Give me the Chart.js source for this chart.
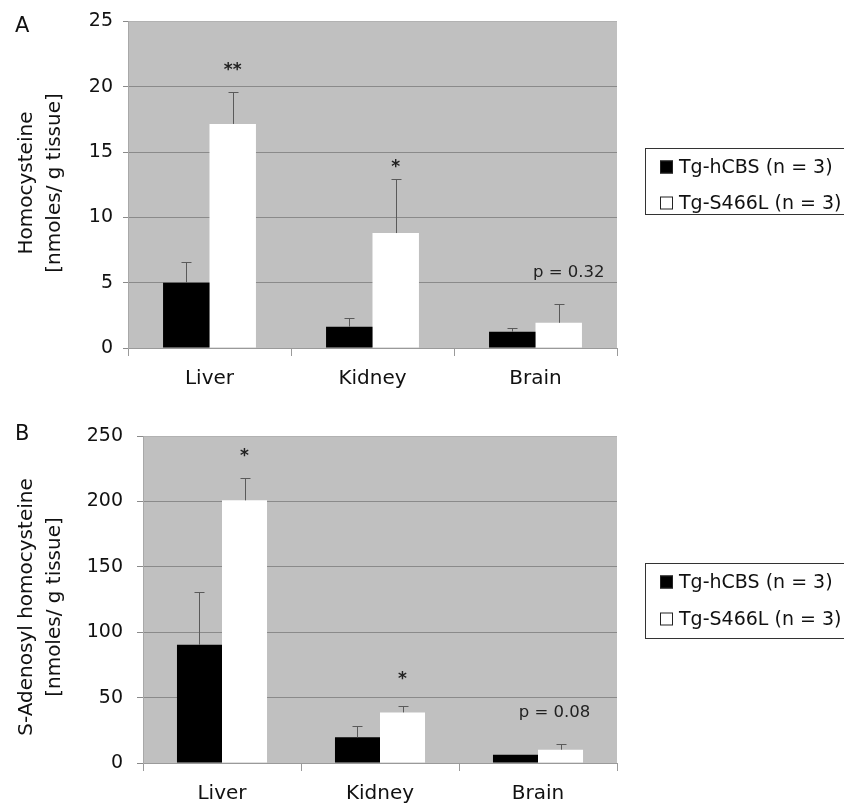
<!DOCTYPE html>
<html><head><meta charset="utf-8">
<script src="https://cdn.jsdelivr.net/npm/chart.js@4/dist/chart.umd.min.js"></script>
<style>
html,body{margin:0;padding:0;background:#fff;overflow:hidden;}
#wa{position:absolute;left:0;top:0;width:844px;height:400px;}
#wb{position:absolute;left:0;top:400px;width:844px;height:411px;}
</style></head><body>
<div id="wa"><canvas id="ca"></canvas></div>
<div id="wb"><canvas id="cb"></canvas></div>
<script>
// ---- data ----
const categories = ['Liver', 'Kidney', 'Brain'];
const seriesLabels = ['Tg-hCBS (n = 3)', 'Tg-S466L (n = 3)'];

const hcyHCBS      = [5.0, 1.63, 1.25];
const hcyHCBSErr   = [1.6, 0.64, 0.25];
const hcyS466L     = [17.15, 8.8, 1.93];
const hcyS466LErr  = [2.45, 4.1, 1.4];
const hcyTicks     = [0, 5, 10, 15, 20, 25];
const hcyMarkText  = ['**', '*', 'p = 0.32'];
const hcyMarkAt    = [21.6, 14.2, 5.8];

const sahHCBS      = [90.4, 19.6, 6.3];
const sahHCBSErr   = [40.3, 8.9, 0];
const sahS466L     = [200.8, 38.7, 10.2];
const sahS466LErr  = [17.1, 5.1, 4.6];
const sahTicks     = [0, 50, 100, 150, 200, 250];
const sahMarkText  = ['*', '*', 'p = 0.08'];
const sahMarkAt    = [238, 67.3, 38.2];

const FONT = 'DejaVu Sans';
const INK = '#111';
Chart.defaults.font.family = FONT;
Chart.defaults.color = INK;

// ---- plugins ----
const plotBg = {
  id: 'plotBg',
  beforeDraw(chart, a, o) {
    const c = chart.ctx, ca = chart.chartArea;
    c.save(); c.fillStyle = o.color; c.fillRect(ca.left, ca.top, ca.right - ca.left, ca.bottom - ca.top); c.restore();
  }
};

const errorBars = {
  id: 'errorBars',
  afterDatasetsDraw(chart, a, o) {
    const c = chart.ctx, y = chart.scales.y;
    chart.data.datasets.forEach((ds, i) => {
      chart.getDatasetMeta(i).data.forEach((el, j) => {
        const e = ds.errors[j];
        if (!e) return;
        const top = Math.round(y.getPixelForValue(ds.data[j] + e)) + 0.5;
        const x = Math.round(el.x) + 0.5;
        c.save(); c.strokeStyle = o.color; c.lineWidth = 1;
        c.beginPath();
        c.moveTo(x, el.y); c.lineTo(x, top);
        c.moveTo(x - o.cap / 2, top); c.lineTo(x + o.cap / 2, top);
        c.stroke(); c.restore();
      });
    });
  }
};

const marks = {
  id: 'marks',
  afterDatasetsDraw(chart, a, o) {
    const c = chart.ctx, y = chart.scales.y;
    const meta = chart.getDatasetMeta(1);
    o.text.forEach((t, j) => {
      if (!t) return;
      const el = meta.data[j];
      const isP = t.startsWith('p');
      c.save();
      c.fillStyle = '#222';
      c.textAlign = 'center';
      c.textBaseline = 'middle';
      c.font = (isP ? (o.pSize + 'px ') : ('bold ' + o.starSize + 'px ')) + FONT;
      const yy = y.getPixelForValue(o.at[j]) + (isP ? 0 : o.starSize * 0.28);
      c.fillText(t, el.x + (isP ? o.pdx : 0), yy);
      c.restore();
    });
  }
};

const sideText = {
  id: 'sideText',
  afterDraw(chart, a, o) {
    const c = chart.ctx;
    c.save();
    c.fillStyle = INK;
    // panel letter
    c.font = '21px ' + FONT; c.textAlign = 'left'; c.textBaseline = 'alphabetic';
    c.fillText(o.letter, o.letterX, o.letterY);
    // axis title (rotated)
    c.font = '20px ' + FONT; c.textAlign = 'center';
    o.title.forEach((line, k) => {
      c.save();
      c.translate(o.titleX[k], o.titleY);
      c.rotate(-Math.PI / 2);
      c.fillText(line, 0, 0);
      c.restore();
    });
    // legend
    const L = o.legend;
    c.strokeStyle = '#333'; c.lineWidth = 1;
    c.strokeRect(L.x + 0.5, L.y + 0.5, L.w, L.h);
    c.font = L.size + 'px ' + FONT; c.textBaseline = 'middle'; c.textAlign = 'left';
    chart.data.datasets.forEach((ds, i) => {
      const ry = L.rows[i];
      c.fillStyle = ds.backgroundColor;
      c.fillRect(L.sx, ry - 6.5, 13, 13);
      c.strokeStyle = '#222';
      c.strokeRect(L.sx + 0.5, ry - 6, 12, 12);
      c.fillStyle = INK;
      c.fillText(ds.label, L.tx, ry + 1);
    });
    c.restore();
  }
};

function makeChart(id, cfg) {
  const gridColor = '#8a8a8a';
  return new Chart(document.getElementById(id), {
    type: 'bar',
    data: {
      labels: categories,
      datasets: [
        { label: seriesLabels[0], data: cfg.a, errors: cfg.aErr, backgroundColor: '#000000', borderWidth: 0,
          categoryPercentage: 0.57, barPercentage: 1.0 },
        { label: seriesLabels[1], data: cfg.b, errors: cfg.bErr, backgroundColor: '#ffffff', borderWidth: 0,
          categoryPercentage: 0.57, barPercentage: 1.0 }
      ]
    },
    options: {
      responsive: true, maintainAspectRatio: false, animation: false, devicePixelRatio: 1,
      layout: { padding: { left: 0, right: cfg.padRight, top: cfg.padTop, bottom: 0 } },
      plugins: {
        legend: { display: false }, tooltip: { enabled: false },
        plotBg: { color: '#c0c0c0' },
        errorBars: { color: '#5a5a5a', cap: 10 },
        marks: { text: cfg.markText, at: cfg.markAt, starSize: 17, pSize: 16.5, pdx: cfg.pdx },
        sideText: cfg.side
      },
      scales: {
        x: {
          grid: { offset: true, drawOnChartArea: false, drawTicks: true, tickLength: 8, color: '#9a9a9a' },
          border: { display: true, color: '#9a9a9a' },
          ticks: { font: { size: 20 }, padding: 11, color: INK },
          afterFit: s => { s.height = cfg.xH; }
        },
        y: {
          min: 0, max: cfg.max,
          afterBuildTicks: s => { s.ticks = cfg.ticks.map(v => ({ value: v })); },
          grid: {
            color: c => (c.tick && c.tick.value === cfg.max) ? '#b2b2b2' : gridColor,
            tickColor: '#8a8a8a', tickLength: cfg.tickLen, lineWidth: 1
          },
          border: { display: true, color: '#a8a8a8' },
          ticks: { font: { size: 19 }, padding: cfg.tickPad, color: INK },
          afterFit: s => { s.width = cfg.yW; }
        }
      }
    },
    plugins: [plotBg, errorBars, marks, sideText]
  });
}

makeChart('ca', {
  a: hcyHCBS, aErr: hcyHCBSErr, b: hcyS466L, bErr: hcyS466LErr,
  ticks: hcyTicks, max: 25, markText: hcyMarkText, markAt: hcyMarkAt, pdx: 10,
  padRight: 227, padTop: 20, xH: 52, yW: 128, tickLen: 5, tickPad: 10,
  side: {
    letter: 'A', letterX: 15, letterY: 32,
    title: ['Homocysteine', '[nmoles/ g tissue]'], titleX: [32, 60], titleY: 183,
    legend: { x: 645, y: 148, w: 210, h: 66, rows: [167, 203], sx: 660, tx: 679, size: 19 }
  }
});

makeChart('cb', {
  a: sahHCBS, aErr: sahHCBSErr, b: sahS466L, bErr: sahS466LErr,
  ticks: sahTicks, max: 250, markText: sahMarkText, markAt: sahMarkAt, pdx: -6,
  padRight: 227, padTop: 36, xH: 48, yW: 143, tickLen: 6, tickPad: 14,
  side: {
    letter: 'B', letterX: 15, letterY: 40,
    title: ['S-Adenosyl homocysteine', '[nmoles/ g tissue]'], titleX: [32, 60], titleY: 207,
    legend: { x: 645, y: 163, w: 210, h: 75, rows: [182, 219], sx: 660, tx: 679, size: 19 }
  }
});
</script>
</body></html>
